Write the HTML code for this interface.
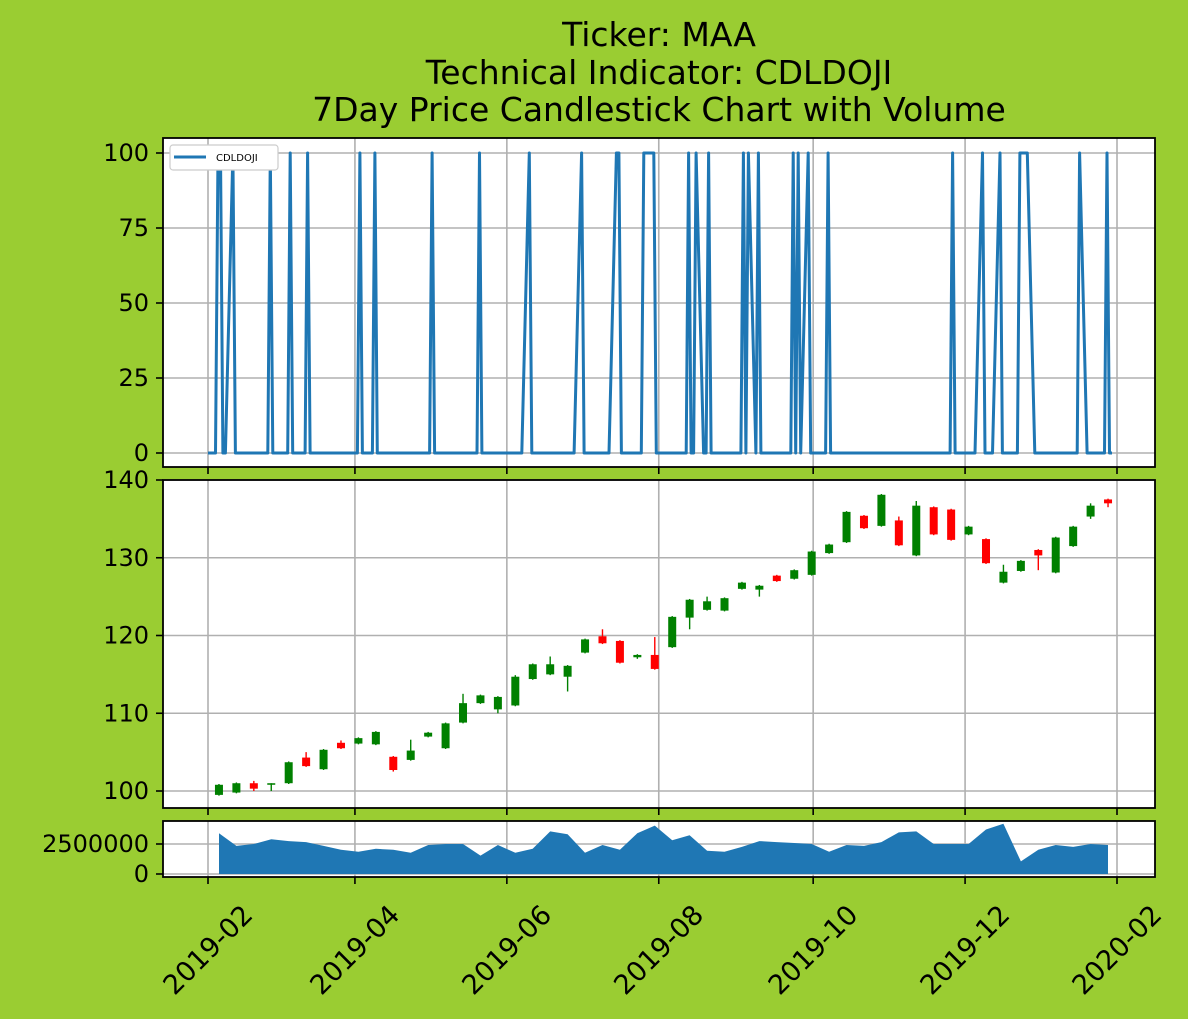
<!DOCTYPE html>
<html><head><meta charset="utf-8"><style>
body{margin:0;background:#9acd32;}
svg{display:block;font-family:"DejaVu Sans","Liberation Sans",sans-serif;}
</style></head><body>
<svg id="c" width="1188" height="1019">
<rect width="1188" height="1019" fill="#9acd32"/>
<g font-size="33" text-anchor="middle" fill="#000">
<text x="659" y="46">Ticker: MAA</text>
<text x="659" y="84">Technical Indicator: CDLDOJI</text>
<text x="659" y="121">7Day Price Candlestick Chart with Volume</text>
</g>
</svg>
<script>
// ---- data ----
const candleOpen = [99.5,99.8,101.0,100.8,101.0,104.3,102.8,106.2,106.1,106.0,104.4,104.0,107.0,105.5,108.8,111.3,110.5,111.0,114.4,115.0,114.7,117.8,119.9,119.3,117.2,117.5,118.5,122.3,123.3,123.2,126.0,125.9,127.7,127.3,127.8,130.6,132.0,135.4,134.1,134.8,130.3,136.5,136.2,133.0,132.4,126.8,128.3,131.0,128.1,131.5,135.3,137.5];
const candleClose = [100.8,101.0,100.3,101.0,103.7,103.2,105.3,105.5,106.8,107.6,102.7,105.2,107.5,108.7,111.3,112.3,112.1,114.7,116.3,116.3,116.1,119.5,119.0,116.5,117.5,115.7,122.4,124.6,124.4,124.8,126.8,126.4,127.0,128.4,130.8,131.7,135.9,133.8,138.1,131.6,136.7,133.0,132.3,134.0,129.3,128.2,129.6,130.3,132.6,134.0,136.7,137.0];
const candleHigh = [100.9,101.1,101.3,101.0,103.8,105.0,105.4,106.5,106.9,107.7,104.5,106.6,107.6,108.8,112.5,112.4,112.2,114.9,116.4,117.3,116.2,119.6,120.8,119.4,117.6,119.8,122.5,124.7,125.0,124.9,126.9,126.5,127.8,128.5,130.9,131.8,136.0,135.5,138.2,135.3,137.3,136.6,136.3,134.1,132.5,129.1,129.7,131.1,132.7,134.1,137.0,137.6];
const candleLow = [99.4,99.7,100.0,100.0,100.9,103.1,102.7,105.4,106.0,105.9,102.5,103.9,106.9,105.4,108.7,111.2,110.0,110.9,114.3,114.9,112.8,117.7,118.9,116.4,117.0,115.6,118.4,120.8,123.2,123.1,125.9,125.0,126.9,127.2,127.7,130.5,131.9,133.7,134.0,131.5,130.2,132.9,132.2,132.9,129.2,126.7,128.2,128.4,128.0,131.4,135.0,136.5];
const volumeM = [3.39,2.34,2.50,2.90,2.74,2.66,2.34,2.02,1.85,2.10,2.02,1.77,2.42,2.50,2.50,1.53,2.42,1.77,2.10,3.55,3.31,1.77,2.42,2.02,3.39,4.03,2.82,3.23,1.94,1.85,2.26,2.74,2.66,2.58,2.50,1.85,2.42,2.34,2.66,3.47,3.55,2.50,2.50,2.50,3.71,4.19,1.05,2.02,2.42,2.26,2.50,2.42];
const dojiDays = [4,5,10,25,33,40,61,67,90,109,129,150,164,165,175,176,178,179,193,196,201,215,217,221,235,237,241,249,299,311,318,326,327,328,329,350,361];
const xTickLabels = ["2019-02","2019-04","2019-06","2019-08","2019-10","2019-12","2020-02"];
const xTickDays = [0,59,120,181,243,304,365];
const dojiTicks = [0,25,50,75,100];
const priceTicks = [100,110,120,130,140];
const volTicks = [0,2500000];
const firstCandleDay = 4.4, daysPerCandle = 7, lastDay = 363;

// ---- scales ----
const X = d => 208 + d * 909 / 365;
const Yd = v => 453 - v * 3.0;
const Yp = v => 791 - (v - 100) * 7.775;
const Yv = v => 874 - v / 2500000 * 30;
const NS = "http://www.w3.org/2000/svg";
const svg = document.getElementById('c');
function el(tag, attrs, parent){const e=document.createElementNS(NS,tag);for(const k in attrs)e.setAttribute(k,attrs[k]);(parent||svg).appendChild(e);return e;}

const panels = [
 {name:'doji-panel', top:138, bot:467},
 {name:'price-panel', top:480, bot:808},
 {name:'volume-panel', top:821, bot:877}
];
const L=163,R=1155;
const groups = panels.map(p=>{
 const g = el('g',{});
 
 
 el('rect',{x:L,y:p.top,width:R-L,height:p.bot-p.top,fill:'#fff'},g);
 xTickDays.forEach(d=>{ el('line',{x1:X(d),x2:X(d),y1:p.top,y2:p.bot,stroke:'#b0b0b0','stroke-width':1.6},g); });
 return g;
});
function yAxis(g,ticks,Y,p,fmt){
 ticks.forEach(t=>{
  const y=Y(t);
  el('line',{x1:L,x2:R,y1:y,y2:y,stroke:'#b0b0b0','stroke-width':1.6},g);
  el('line',{x1:L-7,x2:L,y1:y,y2:y,stroke:'#000','stroke-width':1.6},g);
  const tx=el('text',{x:L-14,y:y+8,'text-anchor':'end','font-size':24},g);
  tx.textContent=fmt?fmt(t):t;
  
  
 });
}
yAxis(groups[0],dojiTicks,Yd);
yAxis(groups[1],priceTicks,Yp);
yAxis(groups[2],volTicks,Yv);

// doji line (trading days)
let pts=[];
const dojiSet=new Set(dojiDays);
for(let d=0; d<=lastDay; d++){
 const wd=(5+d)%7; if(wd===0||wd===6) continue;
 pts.push(X(d).toFixed(1)+','+Yd(dojiSet.has(d)?100:0).toFixed(1));
}
const line=el('polyline',{points:pts.join(' '),fill:'none',stroke:'#1f77b4','stroke-width':3,'stroke-linejoin':'round'},groups[0]);



// legend
const lg=el('g',{},groups[0]);


el('rect',{x:170,y:145,width:108,height:25,rx:3,fill:'#fff',stroke:'#ccc','stroke-width':1.2},lg);
el('line',{x1:174,x2:206,y1:157,y2:157,stroke:'#1f77b4','stroke-width':3},lg);
const lt=el('text',{x:216,y:161,'font-size':10},lg); lt.textContent='CDLDOJI';

// candles
candleOpen.forEach((o,i)=>{
 const c=candleClose[i], x=X(firstCandleDay+i*daysPerCandle);
 const col=c>=o?'#008000':'#ff0000';
 const g=el('g',{},groups[1]);
 
 
 el('line',{x1:x,x2:x,y1:Yp(candleHigh[i]),y2:Yp(candleLow[i]),stroke:col,'stroke-width':1.4},g);
 const top=Yp(Math.max(o,c)), bot=Yp(Math.min(o,c));
 el('rect',{x:x-4,y:top,width:8,height:Math.max(bot-top,1),fill:col},g);
});

// volume area
let vp=[X(firstCandleDay).toFixed(1)+','+Yv(0)];
volumeM.forEach((v,i)=>vp.push(X(firstCandleDay+i*daysPerCandle).toFixed(1)+','+Yv(v*1e6).toFixed(1)));
vp.push(X(firstCandleDay+(volumeM.length-1)*daysPerCandle).toFixed(1)+','+Yv(0));
const area=el('polygon',{points:vp.join(' '),fill:'#1f77b4'},groups[2]);



// frames and x ticks
panels.forEach(p=>{
 const f=el('rect',{x:L,y:p.top,width:R-L,height:p.bot-p.top,fill:'none',stroke:'#000','stroke-width':1.8});
 
 
 xTickDays.forEach(d=>el('line',{x1:X(d),x2:X(d),y1:p.bot,y2:p.bot+7,stroke:'#000','stroke-width':1.6}));
});
xTickDays.forEach((d,i)=>{
 const cx=X(d), cy=950;
 const t=el('text',{x:cx,y:cy+9,'text-anchor':'middle','font-size':27,transform:`rotate(-45 ${cx} ${cy})`});
 t.textContent=xTickLabels[i];
 
 
});
</script>
</body></html>
